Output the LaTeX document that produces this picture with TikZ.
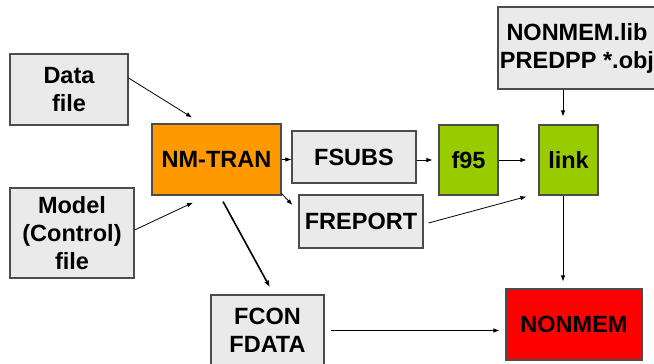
\documentclass[tikz,border=0pt]{standalone}
\usepackage{fontspec}
\setmainfont{Liberation Sans}
\usetikzlibrary{arrows.meta}
\definecolor{boxgray}{HTML}{EAEAEA}
\definecolor{nmorange}{HTML}{FF9900}
\definecolor{nmgreen}{HTML}{99CC00}
\definecolor{nmred}{HTML}{FF0000}
\begin{document}
\begin{tikzpicture}[x=1pt,y=-1pt,
  box/.style={draw=black!70,line width=1.1pt,fill=boxgray,align=center,inner sep=0pt,
    font=\bfseries\fontsize{23.5}{28}\selectfont},
  conn/.style={line width=0.8pt,-{Latex[length=6pt,width=4.5pt]}}]
\useasboundingbox (0,0) rectangle (654,364);
\fill[white] (0,0) rectangle (654,364);
\node[box,minimum width=118pt,minimum height=71pt] (data) at (69,89.5) {Data\\file};
\node[box,fill=nmorange,minimum width=129pt,minimum height=71pt] (nm) at (216.5,159.5) {NM-TRAN};
\node[box,minimum width=124pt,minimum height=52pt] (fsubs) at (354,157) {FSUBS};
\node[box,fill=nmgreen,minimum width=59pt,minimum height=70pt] (f95) at (468.5,160) {f95};
\node[box,fill=nmgreen,minimum width=59pt,minimum height=70pt] (link) at (568.5,160) {link};
\node[box,minimum width=158pt,minimum height=82pt] (lib) at (577,48) {NONMEM.lib\\PREDPP *.obj};
\node[box,minimum width=124pt,minimum height=53pt] (freport) at (361,221.5) {FREPORT};
\node[box,minimum width=124pt,minimum height=90pt] (model) at (72,233) {Model\\(Control)\\file};
\node[box,minimum width=113pt,minimum height=71pt] (fcon) at (267.5,330.5) {FCON\\FDATA};
\node[box,fill=nmred,minimum width=136pt,minimum height=71pt] (nonmem) at (574,324.5) {NONMEM};

\coordinate (lx) at ([xshift=-5.5pt]link.north);
\coordinate (nx) at ([yshift=7pt]nonmem.north);
\coordinate (fx) at ([xshift=-6pt]nonmem.west);

\draw[conn] ([yshift=11.5pt]data.east) -- ([xshift=-24.5pt,yshift=6pt]nm.north);
\draw[conn] ([yshift=3pt]model.east) -- ([xshift=-23.5pt,yshift=-7pt]nm.south);
\draw[conn] (nm.east) -- (nm.east -| fsubs.west);
\draw[conn] (fsubs.east |- f95.west) -- ([xshift=-6pt]f95.west);
\draw[conn] (f95.east) -- ([xshift=-12pt]link.west);
\draw[conn] ([yshift=2pt]nm.south east) -- ([xshift=-6pt,yshift=16.5pt]freport.west);
\draw[line width=1.6pt,-{Latex[length=7pt,width=5pt]}] ([xshift=6.5pt,yshift=-6pt]nm.south) -- ([xshift=2.5pt,yshift=7pt]fcon.north);
\draw[conn] ([xshift=5pt,yshift=-1.5pt]freport.east) -- ([xshift=-12pt,yshift=-1pt]link.south west);
\draw[conn] (lx |- lib.south) -- ([yshift=8pt]lx);
\draw[conn] (lx |- link.south) -- (lx |- nx);
\draw[conn] ([xshift=6pt]fcon.east) -- (fx |- fcon.east);
\end{tikzpicture}
\end{document}
